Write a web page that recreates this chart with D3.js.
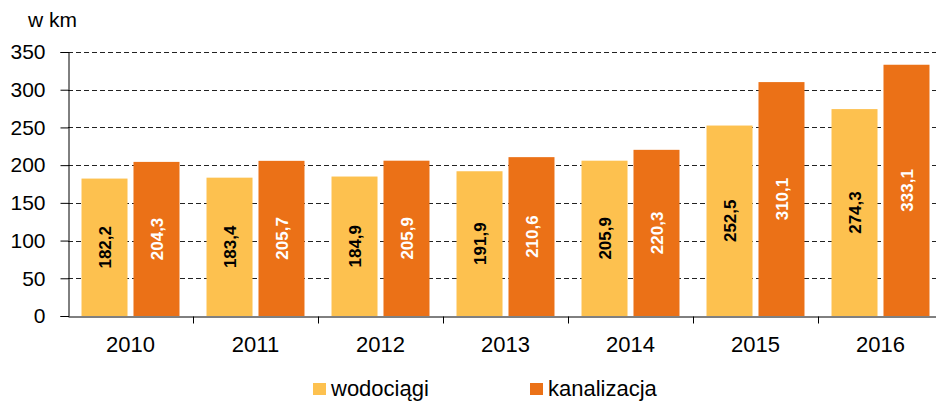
<!DOCTYPE html>
<html>
<head>
<meta charset="utf-8">
<script src="https://cdn.jsdelivr.net/npm/d3@7"></script>
<style>
  body { margin: 0; background: #fff; overflow: hidden; }
  text { font-family: "Liberation Sans", Arial, sans-serif; }
</style>
</head>
<body>
<div id="chart"></div>
<script>
const years = ["2010", "2011", "2012", "2013", "2014", "2015", "2016"];
const seriesNames = ["wodociągi", "kanalizacja"];
const wodociagi = [182.2, 183.4, 184.9, 191.9, 205.9, 252.5, 274.3];
const kanalizacja = [204.3, 205.7, 205.9, 210.6, 220.3, 310.1, 333.1];
const yTicks = [0, 50, 100, 150, 200, 250, 300, 350];

const colors = ["#FDC14F", "#EB7117"];
const labelColors = ["#000", "#fff"];

const width = 936, height = 401;
const margin = { top: 52, bottom: 85, left: 68 };
const plotRight = 943; // the last category runs a little past the picture edge

const svg = d3.select("#chart")
  .append("svg")
  .attr("width", width)
  .attr("height", height);

const x = d3.scaleBand()
  .domain(years)
  .range([margin.left, plotRight]);

const xInner = d3.scaleBand()
  .domain(seriesNames)
  .range([0, x.bandwidth()])
  .paddingInner(0.115)
  .paddingOuter(0.26);

const y = d3.scaleLinear()
  .domain([0, 350])
  .range([height - margin.bottom, margin.top]);

// grid lines
svg.append("g")
  .selectAll("line")
  .data(yTicks.filter(d => d > 0))
  .join("line")
  .attr("x1", margin.left)
  .attr("x2", width)
  .attr("y1", d => Math.round(y(d)) + 0.5)
  .attr("y2", d => Math.round(y(d)) + 0.5)
  .style("stroke", "#222")
  .style("stroke-width", 1)
  .style("stroke-dasharray", "5,3");

// bars
const data = years.map((yr, i) => ({ year: yr, values: [wodociagi[i], kanalizacja[i]] }));

const groups = svg.append("g")
  .selectAll("g")
  .data(data)
  .join("g")
  .attr("transform", d => `translate(${x(d.year)},0)`);

groups.selectAll("rect")
  .data(d => d.values.map((v, j) => ({ key: seriesNames[j], value: v, j })))
  .join("rect")
  .attr("x", d => xInner(d.key))
  .attr("y", d => y(d.value))
  .attr("width", xInner.bandwidth())
  .attr("height", d => y(0) - y(d.value))
  .style("fill", d => colors[d.j]);

groups.selectAll("text")
  .data(d => d.values.map((v, j) => ({ key: seriesNames[j], value: v, j })))
  .join("text")
  .attr("transform", d => {
    const cx = xInner(d.key) + xInner.bandwidth() / 2;
    const cy = (y(d.value) + y(0)) / 2;
    return `translate(${cx},${cy}) rotate(-90)`;
  })
  .attr("text-anchor", "middle")
  .attr("dy", "0.36em")
  .style("font-size", "17px")
  .style("font-weight", "bold")
  .style("fill", d => labelColors[d.j])
  .text(d => d.value.toFixed(1).replace(".", ","));

// y axis
const yAxis = svg.append("g")
  .attr("transform", `translate(${margin.left + 0.5},0)`)
  .call(d3.axisLeft(y).tickValues(yTicks).tickSize(8).tickPadding(15).tickFormat(d3.format("d")));
yAxis.select(".domain").attr("stroke", "#000");
yAxis.selectAll(".tick line").attr("stroke", "#000");
yAxis.selectAll(".tick text")
  .style("font-size", "21px")
  .style("fill", "#000");

// x axis
const xAxis = svg.append("g")
  .attr("transform", `translate(0,${Math.round(y(0)) + 0.5})`)
  .call(d3.axisBottom(x).tickSize(0).tickPadding(20));
xAxis.select(".domain").attr("stroke", "#000");
xAxis.selectAll(".tick text")
  .style("font-size", "22px")
  .style("fill", "#000");

// category boundary ticks
xAxis.append("g")
  .selectAll("line")
  .data(years)
  .join("line")
  .attr("x1", d => Math.round(x(d) + x.bandwidth()) + 0.5)
  .attr("x2", d => Math.round(x(d) + x.bandwidth()) + 0.5)
  .attr("y1", 0)
  .attr("y2", 7)
  .style("stroke", "#000");

// unit label
svg.append("text")
  .attr("x", 28)
  .attr("y", 27)
  .style("font-size", "21px")
  .style("fill", "#000")
  .text("w km");

// legend
const legendX = [313, 530];
const legend = svg.append("g")
  .selectAll("g")
  .data(seriesNames)
  .join("g")
  .attr("transform", (d, i) => `translate(${legendX[i]},383)`);

legend.append("rect")
  .attr("width", 13)
  .attr("height", 12)
  .style("fill", (d, i) => colors[i]);

legend.append("text")
  .attr("x", 18)
  .attr("y", 13)
  .style("font-size", "22px")
  .style("fill", "#000")
  .text(d => d);
</script>
</body>
</html>
